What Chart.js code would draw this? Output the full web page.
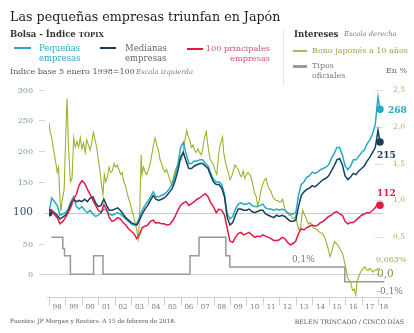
<!DOCTYPE html>
<html>
<head>
<meta charset="utf-8">
<script src="https://cdn.jsdelivr.net/npm/chart.js@4/dist/chart.umd.min.js"></script>
<style>
html, body { margin: 0; padding: 0; background: #fff; }
#wrap { position: relative; width: 414px; height: 333px; overflow: hidden; font-family: "DejaVu Serif", serif; }
#wrap canvas { position: absolute; left: 0; top: 0; }
.t { position: absolute; white-space: nowrap; line-height: 1; }
.sw { position: absolute; height: 2px; }
.it { font-style: italic; color: #777; }
</style>
</head>
<body>
<div id="wrap">
  <canvas id="grafico" width="414" height="333"></canvas>

  <div class="t" style="left:10px;top:11px;font-size:12.7px;color:#1e1e1e;">Las pequeñas empresas triunfan en Japón</div>
  <div class="t" style="left:10px;top:29.5px;font-size:8.5px;font-weight:bold;color:#333;">Bolsa - Índice <span style="font-size:7px">TOPIX</span></div>

  <div class="sw" style="left:14px;top:47px;width:17px;background:#26a8c1;"></div>
  <div class="t" style="left:39px;top:44.3px;font-size:8.5px;color:#33aac4;">Pequeñas</div>
  <div class="t" style="left:39px;top:54.3px;font-size:8.5px;color:#33aac4;">empresas</div>

  <div class="sw" style="left:100px;top:47px;width:16px;background:#15405f;"></div>
  <div class="t" style="left:125px;top:44.3px;font-size:8.5px;color:#666;">Medianas</div>
  <div class="t" style="left:125px;top:54.3px;font-size:8.5px;color:#666;">empresas</div>

  <div class="sw" style="left:187px;top:48px;width:16px;background:#e01a40;"></div>
  <div class="t" style="right:144px;top:44.3px;font-size:8.2px;color:#d2506e;text-align:right;">100 principales</div>
  <div class="t" style="right:144px;top:54.3px;font-size:8.2px;color:#d2506e;text-align:right;">empresas</div>

  <div class="t" style="left:10px;top:67.5px;font-size:8px;color:#555;">Índice base 5 enero 1998=100</div>
  <div class="t it" style="left:136px;top:68.5px;font-size:6.8px;">Escala izquierda</div>

  <div style="position:absolute;left:283px;top:30px;width:1px;height:56px;background:#e6e6e6;"></div>

  <div class="t" style="left:294px;top:29.8px;font-size:8.5px;font-weight:bold;color:#333;">Intereses</div>
  <div class="t it" style="left:344px;top:31px;font-size:6.8px;">Escala derecha</div>

  <div class="sw" style="left:293px;top:50px;width:14px;background:#b4b263;"></div>
  <div class="t" style="left:312px;top:46.5px;font-size:8px;color:#a29e4f;">Bono japonés a 10 años</div>

  <div class="sw" style="left:293px;top:65px;width:14px;height:2.5px;background:#9a9a9a;"></div>
  <div class="t" style="left:312px;top:61.5px;font-size:8px;color:#777;">Tipos</div>
  <div class="t" style="left:312px;top:72.2px;font-size:8px;color:#777;">oficiales</div>
  <div class="t" style="left:386px;top:66.5px;font-size:8px;color:#666;">En %</div>

  <div class="t" style="left:10px;top:318.7px;font-size:5.8px;color:#555;">Fuentes: JP Morgan y Reuters. A 15 de febrero de 2018.</div>
  <div class="t" style="right:10px;top:318.7px;font-size:6.3px;color:#555;">BELÉN TRINCADO / CINCO DÍAS</div>
</div>

<script>
// Fechas bimestrales (año decimal), más el último dato del 15 de febrero de 2018
const fechas = [];
for (let a = 1998; a < 2018; a++) {
    for (let b = 0; b < 6; b++) fechas.push(a + b / 6);
}
fechas.push(2018, 2018.12);

// Índice TOPIX, base 5 enero 1998 = 100
const pequenas = [
    100, 124, 118, 112, 96, 98,
    100, 106, 118, 126, 110, 106,
    110, 104, 100, 104, 98, 94,
    96, 100, 106, 104, 98, 96,
    98, 100, 98, 94, 90, 86,
    82, 80, 82, 92, 104, 112,
    118, 126, 134, 126, 126, 128,
    130, 134, 140, 146, 160, 178,
    206, 214, 196, 180, 180, 184,
    184, 186, 186, 180, 176, 164,
    154, 150, 150, 146, 130, 98,
    90, 94, 106, 114, 116, 114,
    114, 116, 112, 110, 110, 112,
    114, 108, 106, 106, 104, 106,
    104, 106, 104, 100, 98, 98,
    100, 128, 146, 150, 158, 160,
    166, 164, 166, 170, 172, 174,
    178, 188, 196, 206, 206, 194,
    176, 170, 176, 186, 186, 192,
    198, 202, 212, 218, 228, 244,
    288, 268
];
const medianas = [
    100, 104, 100, 96, 90, 93,
    96, 102, 115, 122, 118, 120,
    118, 122, 118, 124, 126, 116,
    110, 112, 122, 112, 104, 104,
    106, 108, 104, 98, 92, 88,
    84, 82, 80, 88, 98, 106,
    112, 120, 128, 122, 120, 122,
    124, 128, 134, 140, 152, 168,
    190, 198, 184, 172, 172, 176,
    178, 180, 180, 176, 172, 160,
    150, 146, 146, 140, 126, 92,
    80, 84, 96, 106, 106, 104,
    104, 106, 102, 100, 102, 104,
    104, 98, 96, 94, 92, 96,
    94, 96, 94, 90, 86, 86,
    88, 110, 128, 134, 138, 140,
    144, 142, 146, 150, 154, 156,
    160, 168, 176, 186, 188, 178,
    160, 154, 158, 164, 162, 168,
    172, 176, 184, 190, 198, 206,
    234, 215
];
const principales = [
    100, 104, 97, 92, 82, 86,
    92, 100, 110, 122, 130, 145,
    152, 148, 138, 130, 120, 112,
    104, 100, 113, 106, 92, 86,
    88, 92, 90, 84, 80, 74,
    70, 66, 58, 64, 76, 78,
    80, 86, 88, 83, 84, 82,
    82, 80, 81, 86, 94, 104,
    112, 116, 118, 112, 115, 118,
    122, 124, 128, 131, 126, 116,
    110, 100, 106, 104, 96, 75,
    54, 52, 60, 66, 68, 64,
    66, 68, 64, 60, 62, 61,
    64, 62, 60, 58, 55, 55,
    56, 60, 58, 52, 48, 50,
    54, 66, 74, 72, 76, 78,
    80, 78, 80, 84, 86, 90,
    94, 96, 100, 102, 98, 96,
    86, 82, 84, 84, 88, 92,
    96, 98, 100, 100, 104, 108,
    116, 112
];

// Bono japonés a 10 años (%), escala derecha
const fechasBono = [
    1998.0, 1998.08, 1998.17, 1998.25, 1998.33, 1998.42, 1998.5, 1998.58, 1998.66, 1998.72, 1998.8, 1998.92,
    1999.05, 1999.1, 1999.18, 1999.3, 1999.4, 1999.5, 1999.6, 1999.7, 1999.8, 1999.9,
    2000.0, 2000.1, 2000.2, 2000.3, 2000.4, 2000.5, 2000.6, 2000.7, 2000.8, 2000.9,
    2001.0, 2001.1, 2001.2, 2001.28, 2001.36, 2001.45, 2001.55, 2001.65, 2001.75, 2001.85, 2001.95,
    2002.05, 2002.15, 2002.25, 2002.35, 2002.45, 2002.55, 2002.65, 2002.75, 2002.85, 2002.95,
    2003.05, 2003.15, 2003.25, 2003.35, 2003.44, 2003.52, 2003.6, 2003.66, 2003.75, 2003.85, 2003.95,
    2004.05, 2004.15, 2004.25, 2004.35, 2004.45, 2004.55, 2004.65, 2004.75, 2004.85, 2004.95,
    2005.05, 2005.15, 2005.25, 2005.35, 2005.45, 2005.55, 2005.65, 2005.75, 2005.85, 2005.95,
    2006.05, 2006.15, 2006.25, 2006.37, 2006.45, 2006.55, 2006.65, 2006.75, 2006.85, 2006.95,
    2007.05, 2007.15, 2007.25, 2007.35, 2007.45, 2007.56, 2007.63, 2007.7, 2007.8, 2007.9,
    2008.0, 2008.1, 2008.2, 2008.3, 2008.4, 2008.55, 2008.62, 2008.7, 2008.8, 2008.9,
    2009.0, 2009.1, 2009.2, 2009.3, 2009.4, 2009.5, 2009.6, 2009.7, 2009.8, 2009.9,
    2010.0, 2010.1, 2010.2, 2010.3, 2010.4, 2010.5, 2010.6, 2010.68, 2010.78, 2010.9,
    2011.0, 2011.1, 2011.2, 2011.3, 2011.4, 2011.5, 2011.6, 2011.7, 2011.8, 2011.9,
    2012.0, 2012.1, 2012.2, 2012.3, 2012.4, 2012.5, 2012.6, 2012.7, 2012.8, 2012.9,
    2013.0, 2013.1, 2013.2, 2013.3, 2013.42, 2013.5, 2013.6, 2013.7, 2013.8, 2013.9,
    2014.0, 2014.1, 2014.2, 2014.3, 2014.4, 2014.5, 2014.6, 2014.7, 2014.8, 2014.9,
    2015.0, 2015.08, 2015.15, 2015.25, 2015.35, 2015.45, 2015.55, 2015.65, 2015.75, 2015.85, 2015.95,
    2016.05, 2016.15, 2016.25, 2016.35, 2016.45, 2016.55, 2016.65, 2016.72, 2016.8, 2016.88,
    2017.0, 2017.1, 2017.2, 2017.3, 2017.4, 2017.5, 2017.6, 2017.7, 2017.8, 2017.9,
    2018.0, 2018.12
];
const bono = [
    2.05, 1.92, 1.85, 1.72, 1.62, 1.5, 1.38, 1.45, 1.05, 0.85, 1.0, 1.15,
    2.1, 2.38, 1.75, 1.25, 1.3, 1.85, 1.72, 1.8, 1.72, 1.85,
    1.7, 1.78, 1.65, 1.82, 1.75, 1.68, 1.78, 1.92, 1.82, 1.72,
    1.55, 1.4, 1.2, 1.08, 1.35, 1.25, 1.32, 1.45, 1.38, 1.4, 1.5,
    1.45, 1.48, 1.42, 1.35, 1.38, 1.25, 1.2, 1.1, 1.02, 0.95,
    0.85, 0.78, 0.68, 0.58, 0.48, 0.9, 1.62, 1.35, 1.45, 1.38, 1.35,
    1.42, 1.5, 1.62, 1.75, 1.85, 1.75, 1.68, 1.55, 1.5, 1.42,
    1.38, 1.42, 1.35, 1.28, 1.22, 1.3, 1.4, 1.45, 1.5, 1.55,
    1.55, 1.65, 1.8, 1.95, 1.88, 1.82, 1.72, 1.75, 1.68, 1.65,
    1.7, 1.65, 1.62, 1.7, 1.85, 1.93, 1.8, 1.68, 1.55, 1.52,
    1.48, 1.4, 1.35, 1.6, 1.75, 1.86, 1.65, 1.55, 1.45, 1.38,
    1.28, 1.32, 1.4, 1.48, 1.45, 1.42, 1.35, 1.32, 1.4, 1.3,
    1.35, 1.38, 1.35, 1.3, 1.2, 1.1, 1.05, 0.92, 1.0, 1.15,
    1.22, 1.28, 1.3, 1.2, 1.15, 1.12, 1.05, 1.02, 1.0, 1.0,
    0.98, 0.98, 1.02, 0.92, 0.85, 0.82, 0.8, 0.8, 0.76, 0.75,
    0.8, 0.67, 0.6, 0.65, 0.87, 0.82, 0.78, 0.71, 0.68, 0.7,
    0.65, 0.62, 0.62, 0.6, 0.58, 0.56, 0.56, 0.52, 0.48, 0.4,
    0.32, 0.24, 0.28, 0.36, 0.44, 0.42, 0.4, 0.36, 0.32, 0.28, 0.18,
    0.08, -0.05, -0.08, -0.12, -0.22, -0.2, -0.28, -0.1, -0.05, 0.0,
    0.05, 0.08, 0.1, 0.06, 0.05, 0.08, 0.06, 0.03, 0.06, 0.05,
    0.08, 0.063
];

// Tipos oficiales del Banco de Japón (%), escalonados
const fechasTipos = [1998.15, 1998.84, 1998.94, 1999.3, 2000.71, 2001.28, 2006.57, 2007.12, 2008.75, 2008.99, 2015.98, 2018.38];
const tipos = [0.5, 0.35, 0.25, 0, 0.25, 0, 0.25, 0.5, 0.25, 0.1, -0.1, -0.1];

// Ejes
const ticksIzq = [0, 50, 150, 200, 250, 300];
const ticksDer = [0.5, 1.0, 1.5, 2.0, 2.5];
const anos = [1998, 1999, 2000, 2001, 2002, 2003, 2004, 2005, 2006, 2007, 2008, 2009, 2010, 2011, 2012, 2013, 2014, 2015, 2016, 2017, 2018];

const COL_PEQ = '#27a9c2';
const COL_MED = '#15405f';
const COL_PRI = '#e01a40';
const COL_BONO = '#98b42c';
const COL_TIPOS = '#999999';
const SERIF = '"DejaVu Serif", serif';

function pares(xs, ys) {
    return ys.map((v, i) => ({ x: xs[i], y: v }));
}
function radioFinal(n, inicio) {
    return ctx => (ctx.dataIndex === n - 1 || (inicio && ctx.dataIndex === 0)) ? 3 : 0;
}
function coma(v) {
    return v.toFixed(1).replace('.', ',');
}

const decorado = {
    id: 'decorado',
    beforeDatasetsDraw(chart) {
        const { ctx, scales: { x, y, y2 } } = chart;
        ctx.save();
        ctx.lineWidth = 1;

        // líneas de referencia en 0 y 100
        ctx.strokeStyle = '#d2d2d2';
        ctx.beginPath();
        ctx.moveTo(44, Math.round(y.getPixelForValue(0)) + 0.5);
        ctx.lineTo(383, Math.round(y.getPixelForValue(0)) + 0.5);
        ctx.stroke();
        ctx.strokeStyle = '#bccdd8';
        ctx.beginPath();
        ctx.moveTo(44, Math.round(y.getPixelForValue(100)) + 0.5);
        ctx.lineTo(383, Math.round(y.getPixelForValue(100)) + 0.5);
        ctx.stroke();

        // escala izquierda
        ctx.textAlign = 'right';
        ctx.textBaseline = 'middle';
        ticksIzq.forEach(v => {
            const py = Math.round(y.getPixelForValue(v)) + 0.5;
            ctx.strokeStyle = '#d6d6d6';
            ctx.beginPath();
            ctx.moveTo(39, py);
            ctx.lineTo(45, py);
            ctx.stroke();
            ctx.fillStyle = '#7c98ab';
            ctx.font = '8px ' + SERIF;
            ctx.fillText(String(v), 33, py);
        });
        ctx.fillStyle = '#3d4b5a';
        ctx.font = '10.5px ' + SERIF;
        ctx.fillText('100', 33, y.getPixelForValue(100));

        // escala derecha
        ctx.textAlign = 'left';
        ticksDer.forEach(v => {
            const py = Math.round(y2.getPixelForValue(v)) + 0.5;
            ctx.strokeStyle = '#dedede';
            ctx.beginPath();
            ctx.moveTo(375, py);
            ctx.lineTo(383, py);
            ctx.stroke();
            ctx.fillStyle = '#b0ab6c';
            ctx.font = '7.5px ' + SERIF;
            ctx.fillText(coma(v), 393, py);
        });

        // eje de fechas
        const base = Math.round(chart.chartArea.bottom) + 0.5;
        ctx.strokeStyle = '#cfcfcf';
        ctx.beginPath();
        ctx.moveTo(47, base);
        ctx.lineTo(392, base);
        ctx.stroke();
        ctx.textAlign = 'center';
        ctx.fillStyle = '#7a7a7a';
        ctx.font = '7px ' + SERIF;
        anos.forEach(a => {
            const px = Math.round(x.getPixelForValue(a)) + 0.5;
            ctx.beginPath();
            ctx.moveTo(px, base);
            ctx.lineTo(px, base + 8);
            ctx.stroke();
            const centro = a === 2018 ? a + 0.35 : a + 0.5;
            ctx.fillText(String(a).slice(2), x.getPixelForValue(centro), base + 10);
        });
        ctx.restore();
    },
    afterDatasetsDraw(chart) {
        const { ctx, scales: { y, y2 } } = chart;
        ctx.save();
        ctx.textBaseline = 'middle';
        ctx.textAlign = 'left';

        ctx.font = 'bold 9px ' + SERIF;
        ctx.fillStyle = COL_PEQ;
        ctx.fillText(String(pequenas[pequenas.length - 1]), 388, y.getPixelForValue(pequenas[pequenas.length - 1]) + 1);
        ctx.fillStyle = COL_MED;
        ctx.fillText(String(medianas[medianas.length - 1]), 377, y.getPixelForValue(medianas[medianas.length - 1]) + 14);
        ctx.fillStyle = COL_PRI;
        ctx.fillText(String(principales[principales.length - 1]), 377, y.getPixelForValue(principales[principales.length - 1]) - 12);

        ctx.font = '8px ' + SERIF;
        ctx.fillStyle = '#a8a45a';
        ctx.fillText('0,063%', 376, y2.getPixelForValue(bono[bono.length - 1]) - 10);
        ctx.font = '10.5px ' + SERIF;
        ctx.fillStyle = '#8f8b45';
        ctx.fillText('0,0', 377, y2.getPixelForValue(0));

        ctx.font = '9px ' + SERIF;
        ctx.fillStyle = '#777';
        ctx.fillText('0,1%', 292, y2.getPixelForValue(0.1) - 7);
        ctx.fillText('-0,1%', 377, y2.getPixelForValue(-0.1) + 10);
        ctx.restore();
    }
};

new Chart(document.getElementById('grafico'), {
    type: 'line',
    data: {
        datasets: [{
            label: '100 principales empresas',
            data: pares(fechas, principales),
            borderColor: COL_PRI,
            backgroundColor: COL_PRI,
            borderWidth: 1.5,
            pointRadius: radioFinal(principales.length),
            yAxisID: 'y'
        }, {
            label: 'Medianas empresas',
            data: pares(fechas, medianas),
            borderColor: COL_MED,
            backgroundColor: COL_MED,
            borderWidth: 1.5,
            pointRadius: radioFinal(medianas.length, true),
            yAxisID: 'y'
        }, {
            label: 'Pequeñas empresas',
            data: pares(fechas, pequenas),
            borderColor: COL_PEQ,
            backgroundColor: COL_PEQ,
            borderWidth: 1.5,
            pointRadius: radioFinal(pequenas.length),
            yAxisID: 'y'
        }, {
            label: 'Bono japonés a 10 años',
            data: pares(fechasBono, bono),
            borderColor: COL_BONO,
            borderWidth: 1.1,
            pointRadius: 0,
            yAxisID: 'y2'
        }, {
            label: 'Tipos oficiales',
            data: pares(fechasTipos, tipos),
            borderColor: COL_TIPOS,
            borderWidth: 1.5,
            stepped: 'before',
            pointRadius: 0,
            yAxisID: 'y2'
        }]
    },
    options: {
        responsive: false,
        animation: false,
        devicePixelRatio: 1,
        layout: { padding: { left: 49, right: 22, top: 85, bottom: 36 } },
        plugins: { legend: { display: false }, tooltip: { enabled: false } },
        elements: { line: { tension: 0, borderCapStyle: 'butt' }, point: { borderWidth: 0, hoverRadius: 0 } },
        scales: {
            x: { type: 'linear', min: 1998, max: 2018.85, display: false },
            y: { min: -36.9, max: 307.6, display: false },
            y2: { min: -36.9 / 120, max: 307.6 / 120, display: false }
        }
    },
    plugins: [decorado]
});
</script>
</body>
</html>
